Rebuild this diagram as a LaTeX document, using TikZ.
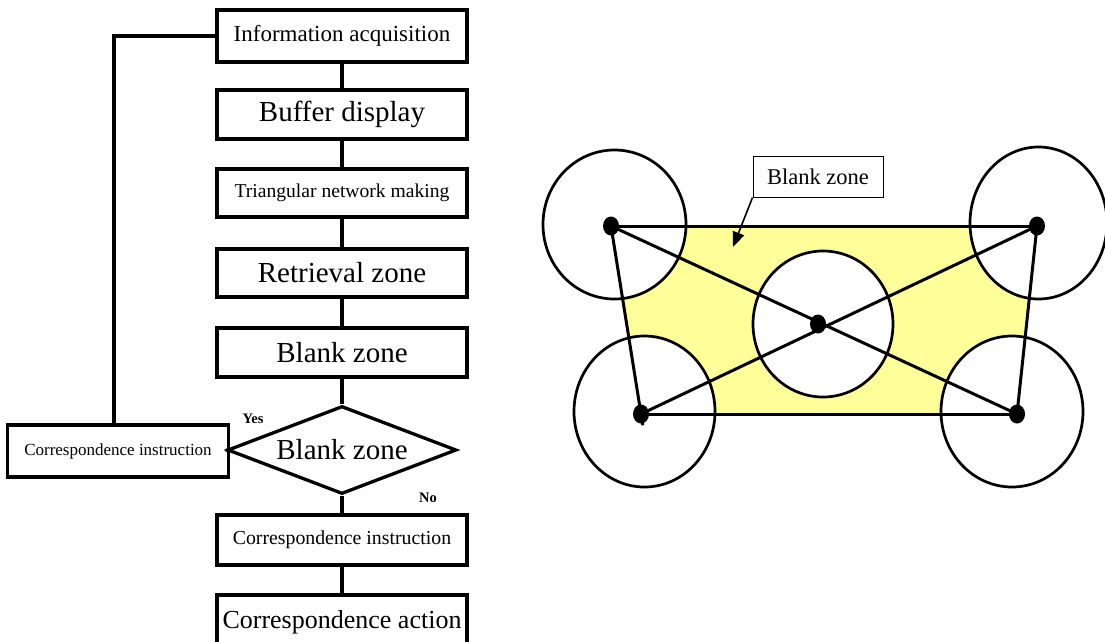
\documentclass[tikz,border=0pt]{standalone}
\usepackage{fontspec}
\setmainfont{Liberation Serif}
\usetikzlibrary{shapes.geometric,arrows.meta,calc}
\definecolor{zoneyellow}{RGB}{255,255,153}
\begin{document}
\begin{tikzpicture}[x=1pt,y=-1pt,
  fbox/.style={draw,line width=3.3pt,minimum width=250pt,inner sep=0pt,align=center},
  conn/.style={line width=3.3pt},
  big/.style={font=\fontsize{29}{32}\selectfont},
  mid/.style={font=\fontsize{23}{26}\selectfont},
  small/.style={font=\fontsize{19.8}{22}\selectfont},
  yn/.style={font=\bfseries\fontsize{14.5}{16}\selectfont,inner sep=0pt},
  ring/.style={draw,ellipse,line width=2.7pt,fill=white,inner sep=0pt},
  pdot/.style={fill=black,ellipse,minimum width=16pt,minimum height=19pt,inner sep=0pt},
  edge/.style={line width=3pt}
]
\useasboundingbox (0,0) rectangle (1105,641);
% ---------- flowchart ----------
\node[fbox,mid,minimum height=52pt] (b1) at (342,36) {Information acquisition};
\node[fbox,big,minimum height=49pt] (b2) at (342,114.5) {Buffer display};
\node[fbox,font=\fontsize{19.6}{22}\selectfont,minimum height=48pt] (b3) at (342,193) {Triangular network making};
\node[fbox,big,minimum height=48pt] (b4) at (342,273) {Retrieval zone};
\node[fbox,big,minimum height=49pt] (b5) at (342,352.5) {Blank zone};
\node[draw,diamond,line width=3.3pt,big,inner sep=0pt,aspect=2.6,minimum width=229pt,minimum height=88pt] (d) at (342,450) {Blank zone};
\node[fbox,small,minimum height=50pt] (b7) at (342,540) {Correspondence instruction};
\node[fbox,font=\fontsize{26}{29}\selectfont,minimum height=54pt] (b8) at (342,622) {Correspondence action};
\node[fbox,font=\fontsize{17}{19}\selectfont,minimum width=221pt,minimum height=52pt] (lb) at (118,451) {Correspondence instruction};
\node[yn] (yes) at (253,419) {Yes};
\node[yn] (no) at (428,498) {No};
\draw[conn] (b1) -- (b2);
\draw[conn] (b2) -- (b3);
\draw[conn] (b3) -- (b4);
\draw[conn] (b4) -- (b5);
\draw[conn] (b5) -- (d.north);
\draw[conn] (d.south) -- (b7);
\draw[conn] (b7) -- (b8);
\draw[conn] (d.west) -- (lb.east);
\draw[conn] ([xshift=-4pt]lb.north) |- (b1.west);
% ---------- right figure ----------
\coordinate (qTL) at (611,226);
\coordinate (qTR) at (1037,226);
\coordinate (qBR) at (1017,414);
\coordinate (qBL) at (641,414);
\fill[zoneyellow] (qTL) -- (qTR) -- (qBR) -- (qBL) -- cycle;
\node[ring,minimum width=143pt,minimum height=149pt] (cTL) at (614.5,224.5) {};
\node[ring,minimum width=137pt,minimum height=152pt] (cTR) at (1038.5,223) {};
\node[ring,minimum width=141pt,minimum height=151pt] (cBL) at (644.5,411.5) {};
\node[ring,minimum width=142pt,minimum height=151pt] (cBR) at (1012,411.5) {};
\node[ring,minimum width=140pt,minimum height=146pt] (cC) at (823,324) {};
\node[pdot] (pTL) at (qTL) {};
\node[pdot] (pTR) at (qTR) {};
\node[pdot] (pBR) at (qBR) {};
\node[pdot] (pBL) at (qBL) {};
\node[pdot] (pC) at (818,324) {};
\draw[edge] (pTL.center) -- (pTR.center);
\draw[edge] (pBL.center) -- (pBR.center);
\draw[edge] (pTR.center) -- (pBR.center);
\draw[edge] (pTL.center) -- ($(pTL.center)!1.06!(pBL.center)$);
\draw[edge] (pTL.center) -- (pBR.center);
\draw[edge] (pBL.center) -- (pTR.center);
\node[draw,line width=1pt,font=\fontsize{22.5}{25}\selectfont,minimum width=130pt,minimum height=41pt,inner sep=0pt] (lbl) at (818,176.5) {Blank zone};
\coordinate (tip) at (733,247);
\draw[line width=1.6pt,-{Triangle[length=15pt,width=12pt]}] (lbl.south west) -- (tip);
\end{tikzpicture}
\end{document}
